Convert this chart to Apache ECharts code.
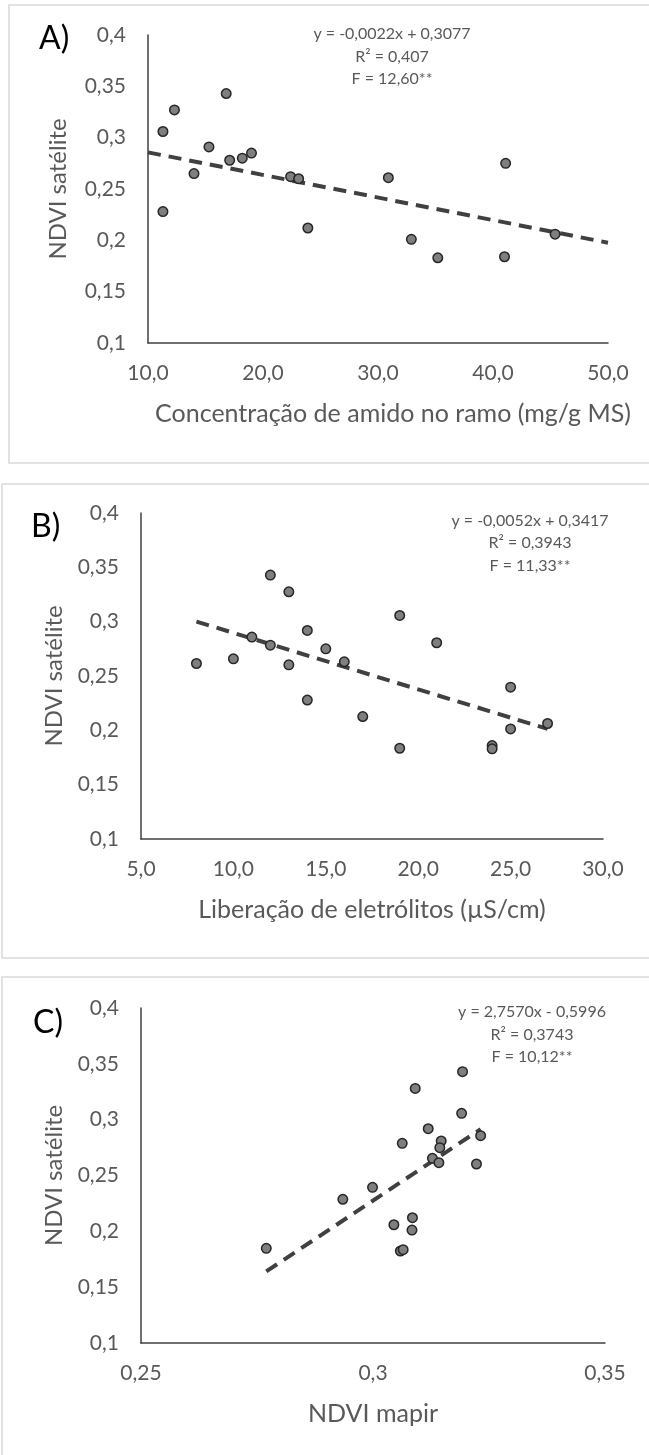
<!DOCTYPE html>
<html>
<head>
<meta charset="utf-8">
<script src="https://cdn.jsdelivr.net/npm/echarts@6/dist/echarts.min.js"></script>
<style>
  html, body { margin: 0; padding: 0; background: #ffffff; }
  #chart { width: 649px; height: 1455px; }
</style>
</head>
<body>
<div id="chart"></div>
<script>
// ---- Panel A: starch concentration vs NDVI satellite ----
const starchA = [11.3, 11.3, 12.3, 14.0, 15.3, 16.8, 17.1, 18.2, 19.0, 22.4, 23.1, 23.9, 30.9, 32.9, 35.2, 41.1, 41.0, 45.4];
const ndviA   = [0.306, 0.228, 0.327, 0.265, 0.291, 0.343, 0.278, 0.280, 0.285, 0.262, 0.260, 0.212, 0.261, 0.201, 0.183, 0.275, 0.184, 0.206];
const trendA  = [[10, 0.2857], [50, 0.1977]];
const eqA     = ['y = -0,0022x + 0,3077', 'R² = 0,407', 'F = 12,60**'];

// ---- Panel B: electrolyte leakage vs NDVI satellite ----
const leakB = [8, 10, 11, 12, 12, 13, 13, 14, 14, 15, 16, 17, 19, 19, 21, 24, 24, 25, 25, 27];
const ndviB = [0.2615, 0.2658, 0.2858, 0.3429, 0.2784, 0.3275, 0.2603, 0.2919, 0.2279, 0.275, 0.2631, 0.2127, 0.3057, 0.1835, 0.2806, 0.186, 0.183, 0.2397, 0.2013, 0.2063];
const trendB = [[8, 0.3001], [27, 0.2013]];
const eqB    = ['y = -0,0052x + 0,3417', 'R² = 0,3943', 'F = 11,33**'];

// ---- Panel C: NDVI mapir vs NDVI satellite ----
const mapirC = [0.2770, 0.2935, 0.2999, 0.3045, 0.3059, 0.3065, 0.3063, 0.3084, 0.3085, 0.3091, 0.3119, 0.3128, 0.3142, 0.3147, 0.3144, 0.3191, 0.3193, 0.3223, 0.3232];
const ndviC  = [0.1848, 0.2287, 0.2394, 0.2059, 0.1824, 0.1836, 0.2788, 0.2011, 0.2122, 0.328, 0.2919, 0.2654, 0.2615, 0.2809, 0.2749, 0.3057, 0.343, 0.2603, 0.2857];
const trendC = [[0.277, 0.1641], [0.3232, 0.2915]];
const eqC    = ['y = 2,7570x - 0,5996', 'R² = 0,3743', 'F = 10,12**'];

const panelLabels = ['A)', 'B)', 'C)'];
const xTitles = ['Concentração de amido no ramo (mg/g MS)', 'Liberação de eletrólitos (µS/cm)', 'NDVI mapir'];
const yTitle = 'NDVI satélite';

const FONT = 'Lato, "Open Sans", sans-serif';
const TXT = '#595959';
const AXIS = '#404040';

function zip(xs, ys) { return xs.map((x, i) => [x, ys[i]]); }
function comma(s) { return s.replace('.', ','); }

const chart = echarts.init(document.getElementById('chart'), null, { renderer: 'canvas' });

const grids = [
  { left: 148, top: 35, width: 460, height: 308 },
  { left: 141, top: 513, width: 462, height: 326 },
  { left: 141, top: 1008, width: 464, height: 335 }
];

const xSpecs = [
  { min: 10, max: 50, interval: 10, fmt: v => comma(v.toFixed(1)), pad: [0, 0, 0, 30] },
  { min: 5, max: 30, interval: 5, fmt: v => comma(v.toFixed(1)), pad: [0, 0, 0, 0] },
  { min: 0.25, max: 0.35, interval: 0.05, fmt: v => comma(String(+v.toFixed(2))), pad: [0, 0, 0, 0] }
];

const xAxes = xSpecs.map((s, i) => ({
  type: 'value', gridIndex: i, min: s.min, max: s.max, interval: s.interval,
  name: xTitles[i], nameLocation: 'middle', nameGap: 58,
  nameTextStyle: { fontFamily: FONT, fontSize: 25, color: TXT, padding: s.pad },
  axisLine: { show: true, onZero: false, lineStyle: { color: AXIS, width: 1.5 } },
  axisTick: { show: false },
  splitLine: { show: false },
  axisLabel: { formatter: s.fmt, fontFamily: FONT, fontSize: 21, color: TXT, margin: 20 }
}));

const yAxes = [0, 1, 2].map(i => ({
  type: 'value', gridIndex: i, min: 0.1, max: 0.4, interval: 0.05,
  name: yTitle, nameLocation: 'middle', nameGap: i === 0 ? 78 : 75, nameRotate: 90,
  nameTextStyle: { fontFamily: FONT, fontSize: 24, color: TXT },
  axisLine: { show: true, onZero: false, lineStyle: { color: AXIS, width: 1.5 } },
  axisTick: { show: false },
  splitLine: { show: false },
  axisLabel: { formatter: v => comma(String(+v.toFixed(2))), fontFamily: FONT, fontSize: 21, color: TXT, margin: 22 }
}));

const scatterData = [zip(starchA, ndviA), zip(leakB, ndviB), zip(mapirC, ndviC)];
const trends = [trendA, trendB, trendC];

const series = [];
for (let i = 0; i < 3; i++) {
  series.push({
    type: 'line', xAxisIndex: i, yAxisIndex: i, data: trends[i],
    showSymbol: false, symbol: 'none', z: 2, silent: true,
    lineStyle: { color: AXIS, width: 4, type: [13, 8] }
  });
  series.push({
    type: 'scatter', xAxisIndex: i, yAxisIndex: i, data: scatterData[i], z: 3,
    symbol: 'circle', symbolSize: 9.5,
    itemStyle: { color: '#7f7f7f', borderColor: '#262626', borderWidth: 1.5, opacity: 1 }
  });
}

const boxes = [
  { x: 9, y: 5, w: 700, h: 458 },
  { x: 2, y: 484, w: 700, h: 474 },
  { x: 2, y: 977, w: 700, h: 520 }
];
const labelPos = [[39, 39], [31, 527], [33, 1023]];
const eqs = [eqA, eqB, eqC];
const eqPos = [[392, [34, 57, 79]], [530, [521, 543, 566]], [532, [1012, 1035, 1057]]];

const graphic = [];
boxes.forEach(b => graphic.push({
  type: 'rect', silent: true, z: -1,
  shape: { x: b.x, y: b.y, width: b.w, height: b.h },
  style: { fill: 'none', stroke: '#d9d9d9', lineWidth: 1.5 }
}));
panelLabels.forEach((t, i) => graphic.push({
  type: 'text', x: labelPos[i][0], y: labelPos[i][1],
  style: { text: t, fontFamily: FONT, fontSize: 32, fill: '#000000', textAlign: 'left', textVerticalAlign: 'middle' }
}));
eqs.forEach((lines, i) => lines.forEach((t, j) => graphic.push({
  type: 'text', x: eqPos[i][0], y: eqPos[i][1][j],
  style: { text: t, fontFamily: FONT, fontSize: 16, fill: TXT, textAlign: 'center', textVerticalAlign: 'middle' }
})));

chart.setOption({
  animation: false,
  backgroundColor: '#ffffff',
  grid: grids,
  xAxis: xAxes,
  yAxis: yAxes,
  series: series,
  graphic: graphic
});
</script>
</body>
</html>
